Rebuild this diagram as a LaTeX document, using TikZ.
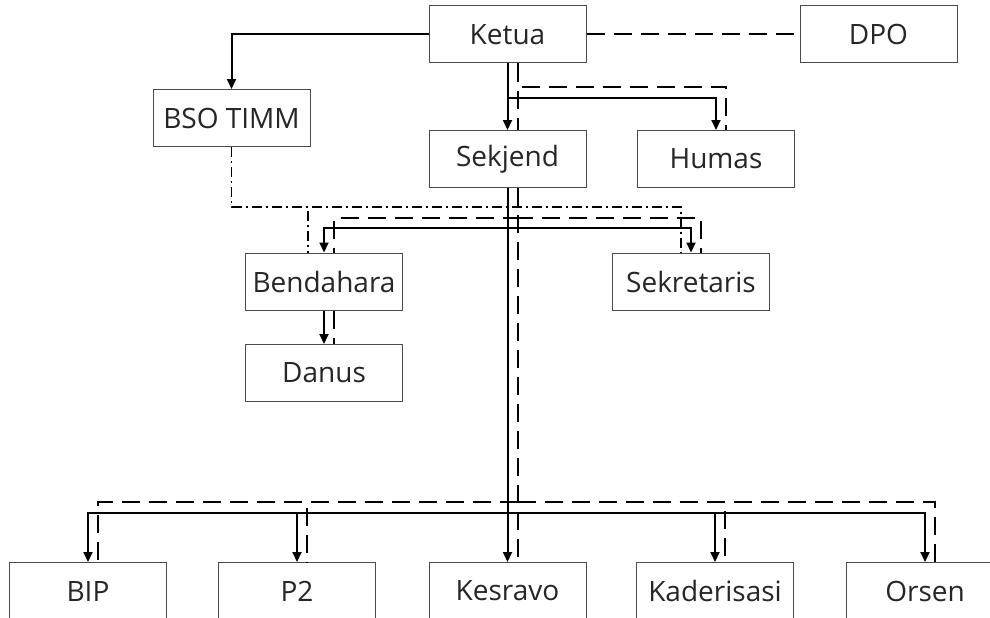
\documentclass[tikz,border=0pt]{standalone}
\usepackage{fontspec}
\setmainfont{Open Sans}
\usetikzlibrary{arrows.meta}
\tikzset{
  box/.style={draw=black!70, line width=1pt, fill=white, minimum width=157pt, minimum height=57pt, inner sep=0pt, font=\fontsize{28}{32}\selectfont, text=black!85},
  sol/.style={line width=2pt, black},
  arr/.style={-{Triangle[length=10pt,width=9pt]}},
  dsh/.style={line width=2pt, black, dash pattern=on 18pt off 9pt},
  dd/.style={line width=1.6pt, black, dash pattern=on 10pt off 4pt on 2pt off 4pt}
}
\begin{document}
\begin{tikzpicture}[x=1pt,y=-1pt]
\useasboundingbox (0,0) rectangle (990,618);
\clip (0,0) rectangle (990,618);
% nodes
\node[box] (ketua) at (507.5,34.5) {Ketua};
\node[box] (dpo) at (878.5,34.5) {DPO};
\node[box] (bso) at (231.5,118) {BSO TIMM};
\node[box] (sekjend) at (507.5,159) {Sekjend};
\node[box] (humas) at (716,159) {Humas};
\node[box] (bendahara) at (324,281.5) {Bendahara};
\node[box] (sekretaris) at (691,281.5) {Sekretaris};
\node[box] (danus) at (324,373) {Danus};
\node[box] (bip) at (88,591) {BIP};
\node[box] (p2) at (297,591) {P2};
\node[box] (kesravo) at (507.5,591) {Kesravo};
\node[box] (kaderisasi) at (715,591) {Kaderisasi};
\node[box] (orsen) at (925,591) {Orsen};
% top
\draw[sol,arr] (ketua.west) -| (bso.north);
\draw[dsh] (ketua.east) -- (dpo.west);
\draw[sol,arr] (ketua.south) -- (sekjend.north);
\draw[dsh] ([xshift=10pt]ketua.south) -- ([xshift=10pt]sekjend.north);
\draw[sol,arr] (ketua.south) -- ++(0,34) -| (humas.north);
\draw[dsh] ([xshift=10pt]ketua.south) -- ++(0,23) -| ([xshift=10pt]humas.north);
% dash-dot from BSO
\coordinate (ddj) at ([yshift=-60pt]bso.south);
\draw[dd] (bso.south) -- (ddj) -| ([xshift=-10pt]sekretaris.north);
\draw[dd] (ddj) -| ([xshift=-16pt]bendahara.north);
% middle
\draw[sol,arr] (sekjend.south) -- ++(0,40) -| (bendahara.north);
\draw[sol,arr] (sekjend.south) -- ++(0,40) -| (sekretaris.north);
\draw[dsh] ([xshift=10pt]sekjend.south) -- ++(0,30) -| ([xshift=10pt]bendahara.north);
\draw[dsh] ([xshift=10pt]sekjend.south) -- ++(0,30) -| ([xshift=10pt]sekretaris.north);
\draw[sol,arr] (bendahara.south) -- (danus.north);
\draw[dsh] ([xshift=10pt]bendahara.south) -- ([xshift=10pt]danus.north);
% bottom
\draw[sol,arr] (sekjend.south) -- (kesravo.north);
\draw[dsh] ([xshift=10pt]sekjend.south) -- ([xshift=10pt]kesravo.north);
\coordinate (sbar) at ([yshift=49pt]kesravo.north);
\coordinate (dbar) at ([xshift=10pt,yshift=60pt]kesravo.north);
\foreach \n in {bip,p2,kaderisasi,orsen}{
  \draw[sol,arr] (sbar) -| (\n.north);
  \draw[dsh] (dbar) -| ([xshift=10pt]\n.north);
}
\end{tikzpicture}
\end{document}
